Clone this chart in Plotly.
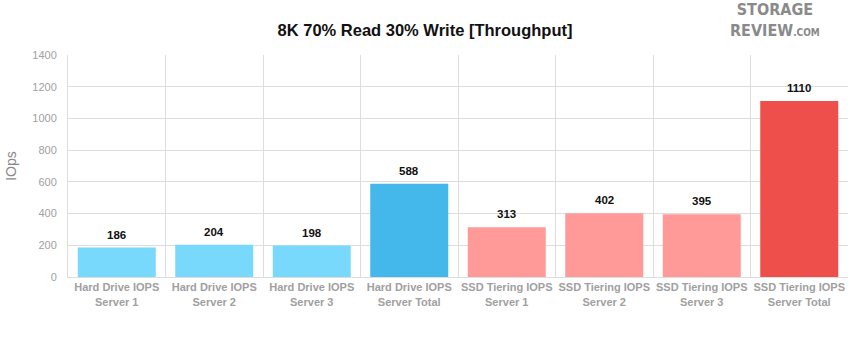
import plotly.graph_objects as go

categories = ["Hard Drive IOPS<br>Server 1", "Hard Drive IOPS<br>Server 2", "Hard Drive IOPS<br>Server 3",
              "Hard Drive IOPS<br>Server Total", "SSD Tiering IOPS<br>Server 1", "SSD Tiering IOPS<br>Server 2",
              "SSD Tiering IOPS<br>Server 3", "SSD Tiering IOPS<br>Server Total"]
values = [186, 204, 198, 588, 313, 402, 395, 1110]
colors = ["#79D9FD", "#79D9FD", "#79D9FD", "#44B8EA", "#FF9A99", "#FF9A99", "#FF9A99", "#EE4F4B"]
yticks = [0, 200, 400, 600, 800, 1000, 1200, 1400]

font = "Liberation Sans, Arial, Helvetica, sans-serif"

fig = go.Figure(go.Bar(
    x=categories, y=values, marker=dict(color=colors, line=dict(width=0)),
    hoverinfo="x+y",
))
for c, v in zip(categories, values):
    fig.add_annotation(x=c, y=v, text=f"<b>{v}</b>", showarrow=False, yanchor="bottom", yshift=5,
                       font=dict(family=font, size=11.5, color="#111111"))

fig.update_layout(
    width=850, height=337,
    margin=dict(l=68, r=2, t=55, b=60),
    paper_bgcolor="white", plot_bgcolor="white",
    bargap=0.2,
    showlegend=False,
    title=dict(text="<b>8K 70% Read 30% Write [Throughput]</b>", x=0.5, xanchor="center",
               y=0.91, yanchor="middle", font=dict(family=font, size=16.5, color="#111111")),
    font=dict(family=font),
)
fig.update_xaxes(
    tickson="boundaries", showgrid=True, gridcolor="#DDDDDD", gridwidth=1,
    showline=True, linecolor="#DDDDDD", ticks="", tickangle=0, automargin=False,
    tickfont=dict(family=font, size=11, color="#A0A0A0", weight="bold"),
)
fig.update_yaxes(
    range=[0, 1400], tickvals=yticks, showgrid=True, gridcolor="#DDDDDD", gridwidth=1,
    showline=True, linecolor="#DDDDDD", zeroline=False, ticks="", automargin=False,
    tickfont=dict(family=font, size=11, color="#A0A0A0"), ticklabelstandoff=8,
    title=dict(text="IOps", font=dict(family=font, size=14, color="#888888"), standoff=12),
)
fig.add_annotation(xref="paper", yref="paper", x=0.906, y=1.158, xanchor="center", yanchor="middle",
                   text="<b>STORAGE<br>REVIEW</b><span style='font-size:10px'><b>.COM</b></span>",
                   showarrow=False, align="center",
                   font=dict(family="DejaVu Sans Condensed, Arial Narrow, sans-serif", size=16, color="#8A8A8A"))
fig.write_html("out.html")
